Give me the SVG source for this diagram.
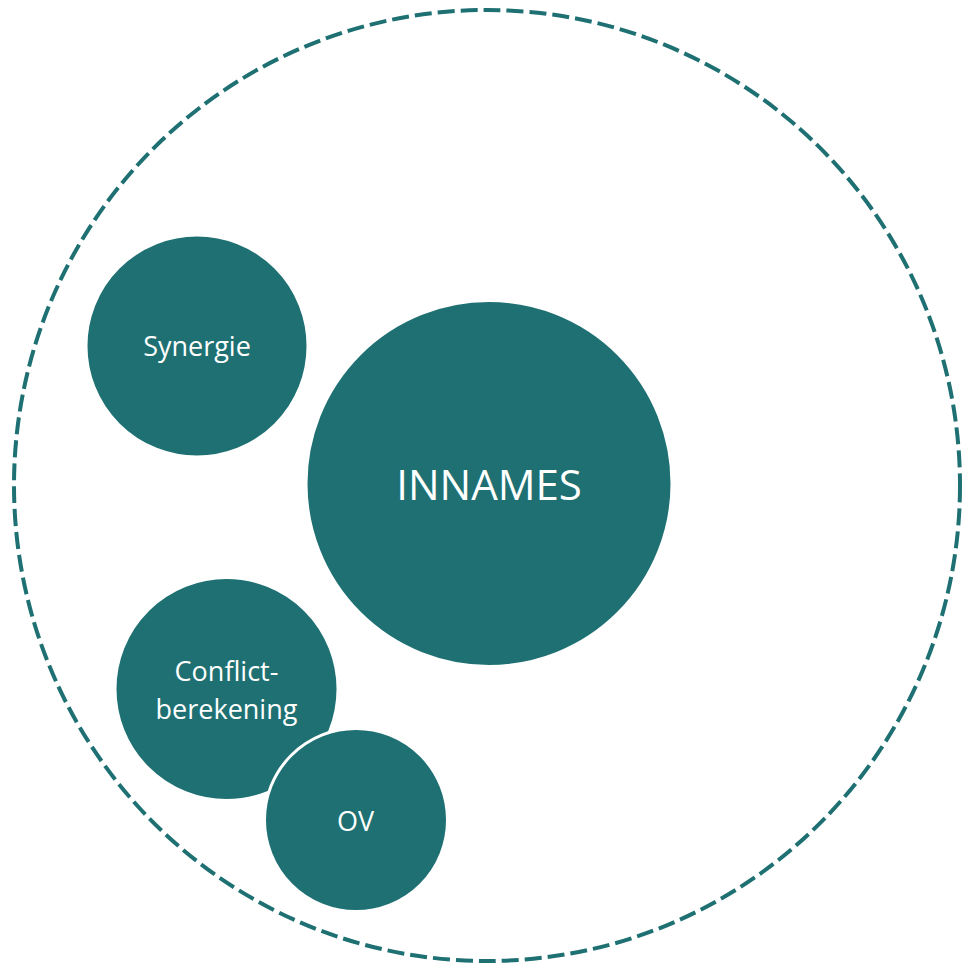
<svg xmlns="http://www.w3.org/2000/svg" width="963" height="966" viewBox="0 0 963 966">
<style>
.node{fill:#1E7072;stroke:#FFFFFF;stroke-width:3}
.lbl{fill:#FFFFFF;font-family:"Open Sans","Liberation Sans",sans-serif;font-size:27px;text-anchor:middle}
.big{font-size:42px}
.outer{fill:none;stroke:#1E7072;stroke-width:4;stroke-dasharray:17 6}
</style>
<rect width="963" height="966" fill="#FFFFFF"/>
<g id="boundary">
<ellipse class="outer" cx="487" cy="485.5" rx="473" ry="475.5"/>
</g>
<g id="connectors"/>
<g id="innames">
<circle class="node" cx="489" cy="483.5" r="183"/>
<text class="lbl big" x="489" y="500">INNAMES</text>
</g>
<g id="synergie">
<circle class="node" cx="197" cy="346" r="111"/>
<text class="lbl" x="197" y="356">Synergie</text>
</g>
<g id="conflict">
<circle class="node" cx="226.5" cy="689" r="111.5"/>
<text class="lbl" x="226.5" y="681">Conflict-</text>
<text class="lbl" x="226.5" y="719">berekening</text>
</g>
<g id="ov">
<circle class="node" cx="356" cy="820" r="91.5"/>
<text class="lbl" x="355.5" y="831">OV</text>
</g>
</svg>
